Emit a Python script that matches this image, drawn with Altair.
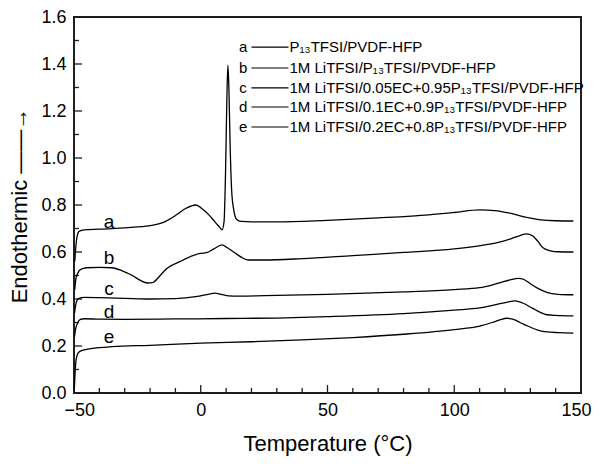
import altair as alt
import pandas as pd

# ---- data ----
a_x = [-49.7, -49.3, -48.8, -48.0, -46, -40, -30, -20, -15, -10, -6, -2, 1, 3.5, 5.6, 7.5, 8.4, 9.2, 9.8, 10.3, 10.7, 11.1, 11.6, 12.2, 13, 14.2, 16, 20, 30, 50, 70, 90, 100, 110, 116, 122, 128, 134, 140, 147]
a_y = [0.56, 0.62, 0.665, 0.688, 0.694, 0.697, 0.703, 0.712, 0.725, 0.755, 0.785, 0.800, 0.780, 0.755, 0.728, 0.705, 0.694, 0.73, 0.95, 1.25, 1.395, 1.30, 1.05, 0.86, 0.78, 0.738, 0.730, 0.728, 0.728, 0.735, 0.745, 0.758, 0.768, 0.779, 0.776, 0.765, 0.748, 0.737, 0.733, 0.732]

b_x = [-49.7, -49.2, -48.5, -47.5, -45, -40, -35, -31, -27, -24, -21, -19, -16, -13.4, -8, -5.6, -0.3, 2.3, 5, 8.4, 10.5, 13, 16, 18.6, 25, 40, 60, 80, 100, 107, 112, 117, 122, 126, 128.5, 131, 133, 135, 138, 141, 147]
b_y = [0.44, 0.49, 0.51, 0.525, 0.533, 0.535, 0.533, 0.52, 0.50, 0.48, 0.468, 0.47, 0.50, 0.53, 0.56, 0.573, 0.594, 0.597, 0.612, 0.630, 0.618, 0.60, 0.578, 0.566, 0.566, 0.572, 0.585, 0.598, 0.613, 0.622, 0.630, 0.640, 0.655, 0.670, 0.677, 0.668, 0.645, 0.618, 0.605, 0.601, 0.600]

c_x = [-49.8, -49.4, -48.8, -48, -46, -40, -30, -20, -10, -2, 3, 5.5, 8, 11, 15, 25, 50, 80, 100, 110, 117, 122, 125.3, 127.5, 130, 133, 136.5, 141, 147]
c_y = [0.34, 0.37, 0.395, 0.403, 0.407, 0.406, 0.403, 0.400, 0.402, 0.410, 0.420, 0.425, 0.420, 0.413, 0.412, 0.414, 0.420, 0.430, 0.440, 0.448, 0.466, 0.481, 0.488, 0.483, 0.465, 0.445, 0.428, 0.420, 0.418]

d_x = [-49.8, -49.3, -48.5, -47.5, -46, -40, -30, -10, 10, 30, 50, 80, 100, 110, 116, 121, 124, 127, 131, 134, 136.5, 140, 147]
d_y = [0.24, 0.275, 0.30, 0.313, 0.316, 0.314, 0.313, 0.315, 0.317, 0.319, 0.325, 0.338, 0.353, 0.362, 0.375, 0.387, 0.392, 0.383, 0.360, 0.343, 0.333, 0.330, 0.328]

e_x = [-49.9, -49.6, -49.2, -48.5, -47.5, -45, -40, -35, -20, 0, 20, 40, 60, 80, 100, 110, 115, 118, 120.7, 123, 126, 129, 133, 136.5, 141, 147]
e_y = [0.01, 0.08, 0.14, 0.168, 0.178, 0.186, 0.193, 0.197, 0.203, 0.212, 0.218, 0.226, 0.236, 0.250, 0.270, 0.285, 0.300, 0.311, 0.318, 0.314, 0.300, 0.285, 0.268, 0.260, 0.257, 0.255]

series_ids = ["a", "b", "c", "d", "e"]
curve_label_x = [-36.2, -36.2, -36.2, -36.2, -36.2]
curve_label_y = [0.728, 0.574, 0.443, 0.345, 0.238]

legend_texts = [
    "P₁₃TFSI/PVDF-HFP",
    "1M LiTFSI/P₁₃TFSI/PVDF-HFP",
    "1M LiTFSI/0.05EC+0.95P₁₃TFSI/PVDF-HFP",
    "1M LiTFSI/0.1EC+0.9P₁₃TFSI/PVDF-HFP",
    "1M LiTFSI/0.2EC+0.8P₁₃TFSI/PVDF-HFP",
]
legend_y = [1.472, 1.383, 1.298, 1.217, 1.132]
legend_letter_x = 16.7
legend_line_x = [20.0, 34.6]
legend_text_x = 35.0

x_domain = [-50, 150]
y_domain = [0.0, 1.6]
x_major = [-50, 0, 50, 100, 150]
x_minor = [-40, -30, -20, -10, 10, 20, 30, 40, 60, 70, 80, 90, 110, 120, 130, 140]
y_major = [0.0, 0.2, 0.4, 0.6, 0.8, 1.0, 1.2, 1.4, 1.6]
y_minor = [0.1, 0.3, 0.5, 0.7, 0.9, 1.1, 1.3, 1.5]

FONT = "Liberation Sans"
INK = "#1c1c1c"
W, H = 507, 376
XT_MAJ, XT_MIN = 8 * 1.6 / H, 5 * 1.6 / H
YT_MAJ, YT_MIN = 8 * 200 / W, 5 * 200 / W

rows = []
for sid, xs, ys in zip(series_ids, [a_x, b_x, c_x, d_x, e_x], [a_y, b_y, c_y, d_y, e_y]):
    for i, (xv, yv) in enumerate(zip(xs, ys)):
        rows.append({"series": sid, "order": i, "T": xv, "H": yv})
curves = pd.DataFrame(rows)

xscale = alt.Scale(domain=x_domain, nice=False, zero=False)
yscale = alt.Scale(domain=y_domain, nice=False, zero=False)

xaxis = alt.Axis(values=x_major, format="d", grid=False, ticks=False, domain=False,
                 labelFlush=True, labelFlushOffset=10,
                 labelFontSize=18, labelFont=FONT, labelColor="black", labelPadding=8,
                 title="Temperature (°C)", titleFont=FONT, titleFontSize=22,
                 titleFontWeight="normal", titleColor="black", titlePadding=14)
yaxis = alt.Axis(values=y_major, format=".1f", grid=False, ticks=False, domain=False,
                 labelFontSize=18, labelFont=FONT, labelColor="black", labelPadding=8,
                 title="Endothermic  ——→", titleFont=FONT, titleFontSize=22,
                 titleFontWeight="normal", titleColor="black", titlePadding=9)

# frame: a stroked, unfilled rectangle spanning the whole domain
frame_df = pd.DataFrame({"fx0": [x_domain[0]], "fx1": [x_domain[1]],
                         "fy0": [y_domain[0]], "fy1": [y_domain[1]]})
frame = alt.Chart(frame_df).mark_rect(fill=None, fillOpacity=0, stroke=INK, strokeWidth=1.8).encode(
    x=alt.X("fx0:Q", scale=xscale, axis=xaxis), x2="fx1:Q",
    y=alt.Y("fy0:Q", scale=yscale, axis=yaxis), y2="fy1:Q")

lines = alt.Chart(curves).mark_line(color="black", strokeWidth=1.3, interpolate="monotone").encode(
    x=alt.X("T:Q", scale=xscale),
    y=alt.Y("H:Q", scale=yscale),
    detail="series:N",
    order="order:Q",
)

lab_df = pd.DataFrame({"s": series_ids, "lxp": curve_label_x, "lyp": curve_label_y})
curve_labels = alt.Chart(lab_df).mark_text(font=FONT, fontSize=19, color="black", baseline="middle").encode(
    x=alt.X("lxp:Q", scale=xscale), y=alt.Y("lyp:Q", scale=yscale), text="s:N")

leg_df = pd.DataFrame({"s": series_ids, "t": legend_texts, "gy": legend_y,
                       "gx": [legend_letter_x] * 5, "gx1": [legend_line_x[0]] * 5,
                       "gx2": [legend_line_x[1]] * 5, "gtx": [legend_text_x] * 5})
leg_letters = alt.Chart(leg_df).mark_text(font=FONT, fontSize=15, color="black", baseline="middle").encode(
    x=alt.X("gx:Q", scale=xscale), y=alt.Y("gy:Q", scale=yscale), text="s:N")
leg_lines = alt.Chart(leg_df).mark_rule(color="black", strokeWidth=1.2).encode(
    x=alt.X("gx1:Q", scale=xscale), x2="gx2:Q", y=alt.Y("gy:Q", scale=yscale))
leg_texts = alt.Chart(leg_df).mark_text(font=FONT, fontSize=15, color="black", baseline="middle", align="left").encode(
    x=alt.X("gtx:Q", scale=xscale), y=alt.Y("gy:Q", scale=yscale), text="t:N")

# inward ticks
xt = pd.DataFrame({"tv": x_major + x_minor,
                   "ty0": [y_domain[0]] * (len(x_major) + len(x_minor)),
                   "ty1": [y_domain[0] + XT_MAJ] * len(x_major) + [y_domain[0] + XT_MIN] * len(x_minor)})
yt = pd.DataFrame({"uv": y_major + y_minor,
                   "ux0": [x_domain[0]] * (len(y_major) + len(y_minor)),
                   "ux1": [x_domain[0] + YT_MAJ] * len(y_major) + [x_domain[0] + YT_MIN] * len(y_minor)})
xticks = alt.Chart(xt).mark_rule(color=INK, strokeWidth=1.3).encode(
    x=alt.X("tv:Q", scale=xscale), y=alt.Y("ty0:Q", scale=yscale), y2="ty1:Q")
yticks = alt.Chart(yt).mark_rule(color=INK, strokeWidth=1.3).encode(
    y=alt.Y("uv:Q", scale=yscale), x=alt.X("ux0:Q", scale=xscale), x2="ux1:Q")

chart = alt.layer(frame, xticks, yticks, lines, curve_labels, leg_letters, leg_lines, leg_texts).properties(
    width=W, height=H,
    autosize=alt.AutoSizeParams(type="none"),
    padding={"left": 66, "top": 9, "right": 11, "bottom": 66},
    background="white",
).configure_view(stroke=INK, strokeWidth=1.6)

chart.save("out.html", embed_options={"renderer": "svg", "actions": False})
